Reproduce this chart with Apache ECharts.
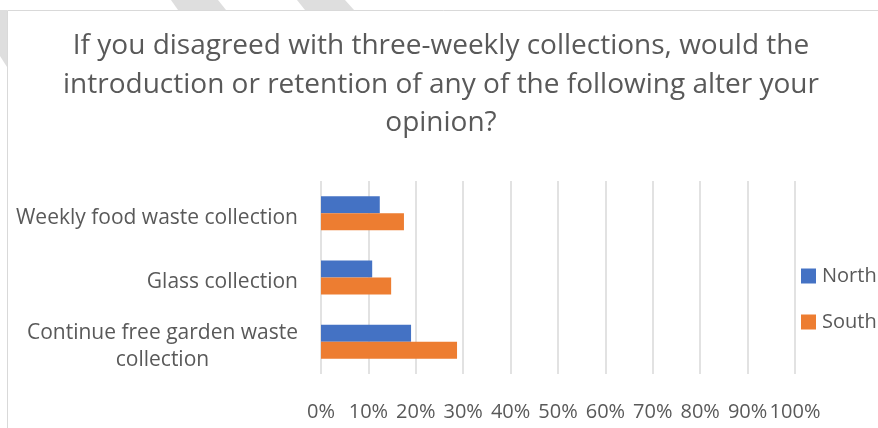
<!DOCTYPE html>
<html>
<head>
<meta charset="utf-8">
<title>Three-weekly collections</title>
<script src="https://cdn.jsdelivr.net/npm/echarts@6/dist/echarts.min.js"></script>
<style>
  html, body { margin: 0; padding: 0; background: #fff; }
  #chart { width: 878px; height: 428px; }
</style>
</head>
<body>
<div id="chart"></div>
<script>
// 카테고리는 아래에서 위 순서 (ECharts y축은 아래가 시작)
const categories = [
  "Continue free garden waste\ncollection",
  "Glass collection",
  "Weekly food waste collection"
];
const northValues = [0.19, 0.108, 0.124];
const southValues = [0.287, 0.148, 0.175];
const seriesNames = ["North", "South"];
const titleText = "If you disagreed with three-weekly collections, would the\nintroduction or retention of any of the following alter your\nopinion?";

const FONT = "'Open Sans', sans-serif";
const TEXT = "#595959";

// 배경 사선 무늬 + 차트 테두리 (원본 스크린샷의 잘린 프레임)
function frameGraphics() {
  const stripe = (pts) => ({
    type: "polygon", silent: true, z: -10,
    shape: { points: pts },
    style: { fill: "#dedede" }
  });
  return [
    stripe([[171, 0], [218, 0], [226, 10], [178, 10]]),
    stripe([[297, 0], [345, 0], [354, 10], [305, 10]]),
    stripe([[0, 10], [7, 10], [7, 67], [0, 56]]),
    {
      type: "rect", silent: true, z: -5,
      shape: { x: 7.5, y: 10.5, width: 900, height: 450 },
      style: { fill: "#fff", stroke: "#d9d9d9", lineWidth: 1 }
    }
  ];
}

const chart = echarts.init(document.getElementById("chart"), null, { renderer: "canvas" });
chart.setOption({
  animation: false,
  backgroundColor: "#fff",
  color: ["#4472C4", "#ED7D31"],
  graphic: frameGraphics(),
  title: {
    text: titleText,
    left: 441,
    top: 27,
    padding: 0,
    textAlign: "center",
    textStyle: { fontFamily: FONT, fontSize: 28, fontWeight: "normal", color: TEXT, lineHeight: 38.5 }
  },
  legend: {
    data: seriesNames,
    orient: "vertical",
    left: 801,
    top: 266,
    padding: 0,
    icon: "rect",
    itemWidth: 15,
    itemHeight: 15,
    itemGap: 26,
    textStyle: { fontFamily: FONT, fontSize: 20, color: TEXT, padding: [0, 0, 0, 1] }
  },
  grid: { left: 321, right: 83, top: 181, bottom: 54, containLabel: false },
  xAxis: {
    type: "value",
    min: 0,
    max: 1,
    interval: 0.1,
    axisLine: { show: false },
    axisTick: { show: false },
    splitLine: { show: true, lineStyle: { color: "#d9d9d9", width: 1.5 } },
    axisLabel: {
      margin: 28,
      fontFamily: FONT,
      fontSize: 20,
      color: TEXT,
      formatter: (v) => Math.round(v * 100) + "%"
    }
  },
  yAxis: {
    type: "category",
    data: categories,
    axisLine: { show: false },
    axisTick: { show: false },
    axisLabel: {
      margin: 23,
      fontFamily: FONT,
      fontSize: 21,
      color: TEXT,
      lineHeight: 27,
      align: "right",
      padding: [9, 0, 0, 0],
      // 여러 줄 라벨은 줄마다 가운데 정렬
      formatter: (v) => v.split("\n").map((line) => `{c|${line}}`).join("\n"),
      rich: {
        c: { align: "center", fontFamily: FONT, fontSize: 21, color: TEXT, lineHeight: 27 }
      }
    }
  },
  series: [
    { name: seriesNames[0], type: "bar", data: northValues, barWidth: 17, barGap: "0%" },
    { name: seriesNames[1], type: "bar", data: southValues, barWidth: 17, barGap: "0%" }
  ]
});
</script>
</body>
</html>
